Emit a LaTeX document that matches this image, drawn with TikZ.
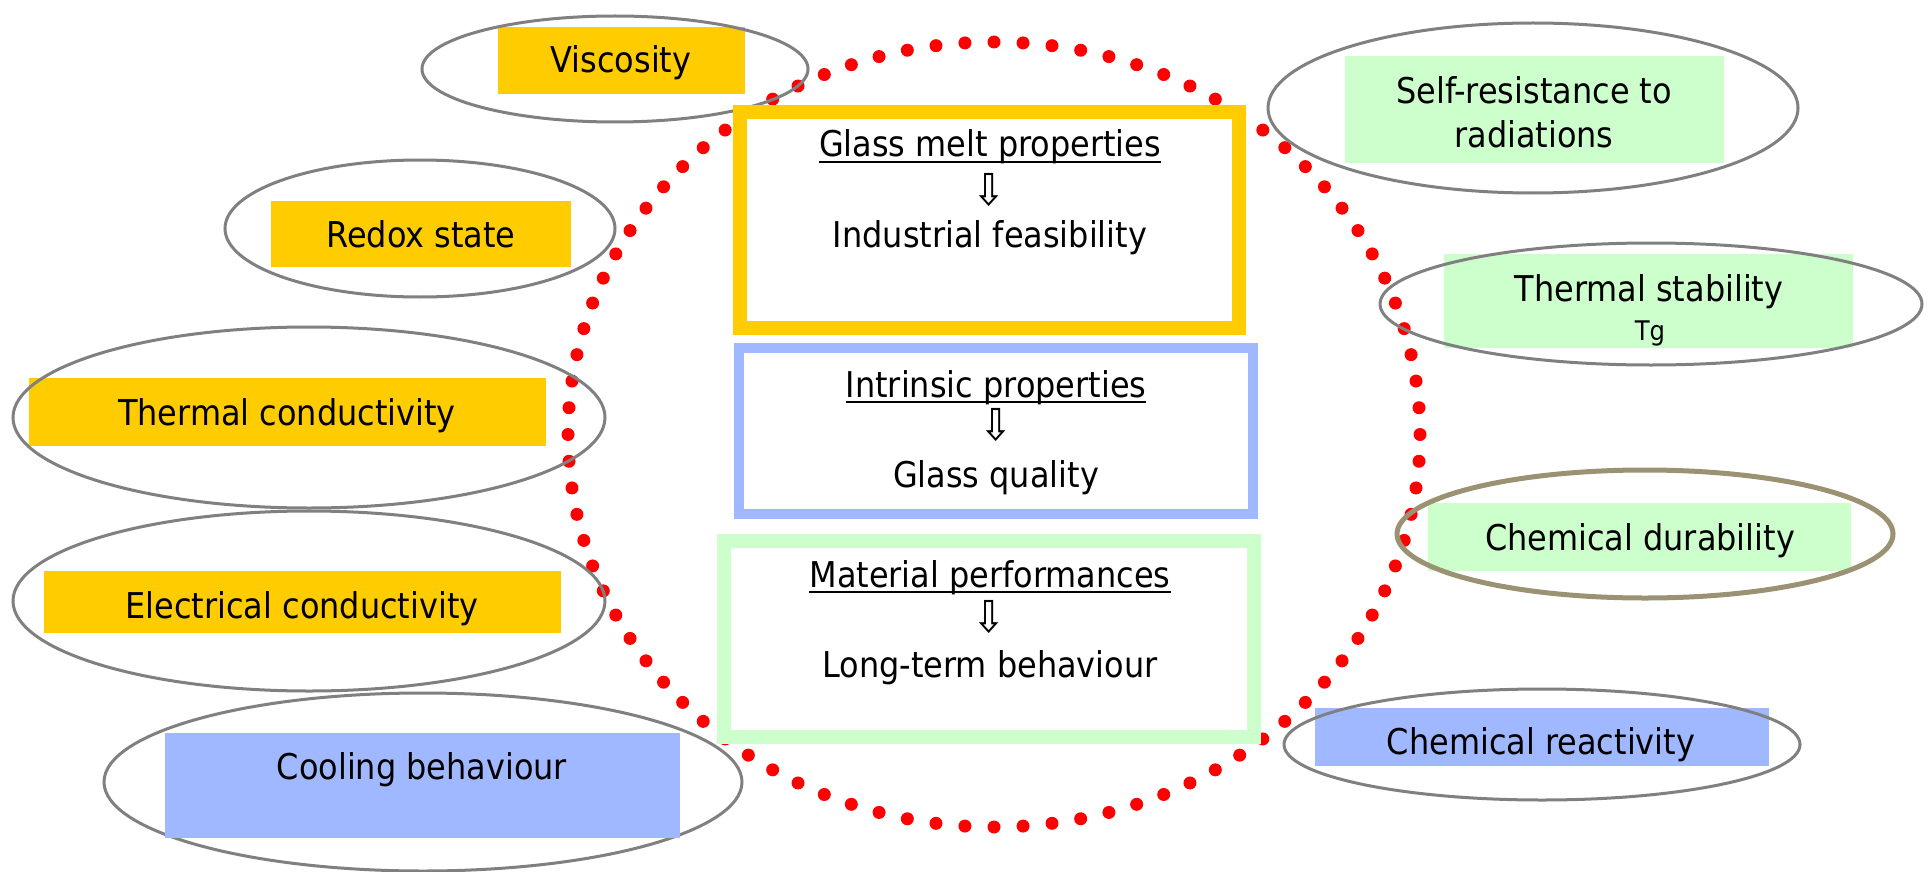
\documentclass[tikz,border=0pt]{standalone}
\usepackage{fontspec}
\setmainfont{DejaVu Sans Condensed}
\usetikzlibrary{shapes.geometric}
\definecolor{cyel}{HTML}{FFCC00}
\definecolor{cblue}{HTML}{A0B8FF}
\definecolor{cgreen}{HTML}{CCFFCC}
\definecolor{cgray}{HTML}{808080}
\definecolor{colive}{HTML}{9B9274}
\definecolor{cred}{HTML}{FF0000}
\begin{document}
\begin{tikzpicture}[x=1pt,y=-1pt,
  lbl/.style={inner sep=0pt, anchor=base, font=\fontsize{35.5}{44}\selectfont},
  small/.style={inner sep=0pt, anchor=base, font=\fontsize{27}{32}\selectfont},
  arr/.style={inner sep=0pt, font=\fontsize{44}{44}\selectfont},
  oval/.style={draw=cgray, line width=3pt, ellipse, inner sep=0pt},
  tag/.style={rectangle, inner sep=0pt, draw=none},
  bigbox/.style={rectangle, inner sep=0pt, fill=white},
  uline/.style={line width=2.5pt}
]
\useasboundingbox (0,0) rectangle (1930,872);
\fill[white] (0,0) rectangle (1930,872);

% red dotted ring
\foreach \i in {0,...,91}
  \fill[cred] ({994+426*cos(90+\i*3.913043)},{434.5-392.5*sin(90+\i*3.913043)}) circle[radius=6.5pt];

% left side tags and ovals
\node[tag, fill=cyel, minimum width=247pt, minimum height=67pt] (rvis) at (621.5,60.5) {};
\node[oval, minimum width=386pt, minimum height=106pt] (evis) at (615,69) {};

\node[tag, fill=cyel, minimum width=300pt, minimum height=66pt] (rred) at (421,234) {};
\node[oval, minimum width=390pt, minimum height=137pt] (ered) at (420,228.5) {};

\node[tag, fill=cyel, minimum width=517pt, minimum height=68pt] (rtc) at (287.5,412) {};
\node[oval, minimum width=592pt, minimum height=181pt] (etc) at (309,417.5) {};

\node[tag, fill=cyel, minimum width=517pt, minimum height=62pt] (rec) at (302.5,602) {};
\node[oval, minimum width=592pt, minimum height=180pt] (eec) at (309,601) {};

\node[oval, minimum width=638pt, minimum height=178pt] (ecb) at (423,782) {};
\node[tag, fill=cblue, minimum width=515pt, minimum height=105pt] (rcb) at (422.5,785.5) {};

% right side tags and ovals
\node[tag, fill=cgreen, minimum width=379pt, minimum height=107pt] (rsr) at (1534.5,109.5) {};
\node[oval, minimum width=530pt, minimum height=170pt] (esr) at (1533,108) {};

\node[tag, fill=cgreen, minimum width=409pt, minimum height=94pt] (rts) at (1648.5,301) {};
\node[oval, minimum width=542pt, minimum height=122pt] (ets) at (1651,304) {};

\node[tag, fill=cgreen, minimum width=423pt, minimum height=68pt] (rcd) at (1639.5,537) {};
\node[oval, draw=colive, line width=5pt, minimum width=496pt, minimum height=128pt] (ecd) at (1645,534) {};

\node[tag, fill=cblue, minimum width=454pt, minimum height=58pt] (rcr) at (1542,737) {};
\node[oval, minimum width=516pt, minimum height=111pt] (ecr) at (1542,744.5) {};

% central boxes
\node[bigbox, draw=cyel, line width=14pt, minimum width=499pt, minimum height=216pt] (bm) at (989.5,220) {};
\node[bigbox, draw=cblue, line width=10pt, minimum width=514pt, minimum height=166pt] (bi) at (996,431) {};
\node[bigbox, draw=cgreen, line width=14pt, minimum width=530pt, minimum height=196pt] (bp) at (989,639) {};

% texts
\node[lbl] (tvis) at (621,73) {Viscosity};
\node[lbl] (tred) at (421,247) {Redox state};
\node[lbl] (ttc) at (287,425) {Thermal conductivity};
\node[lbl] (tec) at (302,618) {Electrical conductivity};
\node[lbl] (tcb) at (422,779) {Cooling behaviour};

\node[lbl] (tsr1) at (1534,104) {Self-resistance to};
\node[lbl] (tsr2) at (1534,148) {radiations};
\node[lbl] (tts) at (1649,301) {Thermal stability};
\node[small] (ttg) at (1650,340) {Tg};
\node[lbl] (tcd) at (1640,550) {Chemical durability};
\node[lbl] (tcr) at (1541,754) {Chemical reactivity};

\node[lbl] (tgm) at (990,157) {Glass melt properties};
\draw[uline] ([yshift=-5pt]tgm.base west) -- ([yshift=-5pt]tgm.base east);
\node[arr] (a1) at (989,190) {⇩};
\node[lbl] (tif) at (990,247) {Industrial feasibility};

\node[lbl] (tip) at (996,397) {Intrinsic properties};
\draw[uline] ([yshift=-5pt]tip.base west) -- ([yshift=-5pt]tip.base east);
\node[arr] (a2) at (996,425) {⇩};
\node[lbl] (tgq) at (996,487) {Glass quality};

\node[lbl] (tmp) at (990,587) {Material performances};
\draw[uline] ([yshift=-5pt]tmp.base west) -- ([yshift=-5pt]tmp.base east);
\node[arr] (a3) at (989,617) {⇩};
\node[lbl] (tlt) at (990,677) {Long-term behaviour};
\end{tikzpicture}
\end{document}
